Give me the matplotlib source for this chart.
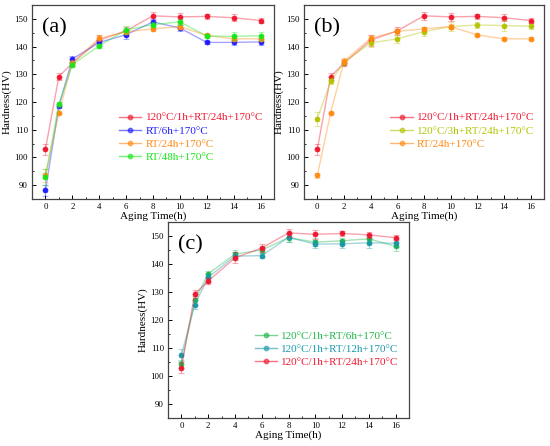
import matplotlib
matplotlib.use("Agg")
import matplotlib.pyplot as plt
from matplotlib.ticker import MultipleLocator

plt.rcParams['font.family'] = ['Liberation Serif', 'DejaVu Serif']

time_h = [0, 1, 2, 4, 6, 8, 10, 12, 14, 16]

# panel (a)
a_labels = ['120°C/1h+RT/24h+170°C', 'RT/6h+170°C', 'RT/24h+170°C', 'RT/48h+170°C']
a_vals = [
    [103.0, 129.2, 134.0, 142.3, 145.7, 151.1, 150.7, 150.9, 150.4, 149.4],
    [88.2, 118.5, 135.5, 141.5, 144.3, 148.9, 146.7, 141.5, 141.5, 141.7],
    [93.5, 116.0, 134.2, 143.0, 145.3, 146.4, 147.2, 144.0, 142.8, 142.8],
    [93.0, 119.3, 133.5, 140.3, 146.0, 147.9, 148.9, 143.8, 143.7, 143.9],
]
a_errs = [
    [2.0, 1.3, 1.0, 2.0, 1.5, 1.5, 1.5, 0.8, 1.2, 1.0],
    [2.0, 0.8, 1.0, 1.0, 1.5, 1.0, 1.0, 0.5, 0.8, 1.2],
    [2.5, 0.5, 1.0, 1.0, 0.8, 0.8, 0.8, 0.5, 0.8, 0.8],
    [2.8, 0.8, 1.0, 0.8, 1.5, 1.0, 1.0, 0.8, 1.5, 1.5],
]
a_colors = ['#f01830', '#1f1fff', '#ff8a14', '#19e619']

# panel (b)
b_labels = ['120°C/1h+RT/24h+170°C', '120°C/3h+RT/24h+170°C', 'RT/24h+170°C']
b_vals = [
    [103.0, 129.2, 134.0, 142.3, 145.7, 151.1, 150.7, 150.9, 150.4, 149.4],
    [114.0, 127.5, 134.3, 141.3, 142.8, 145.4, 147.2, 147.8, 147.6, 147.3],
    [93.5, 116.0, 134.7, 143.0, 145.5, 146.4, 147.2, 144.2, 142.8, 142.8],
]
b_errs = [
    [2.0, 1.3, 1.0, 2.0, 1.5, 1.5, 1.5, 0.8, 1.2, 1.0],
    [2.5, 1.0, 1.0, 1.5, 1.5, 1.5, 1.5, 1.0, 2.0, 1.0],
    [1.0, 0.5, 1.0, 1.0, 1.0, 0.8, 0.8, 0.5, 0.5, 0.5],
]
b_colors = ['#f01830', '#b4c400', '#ff8a14']

# panel (c)
c_labels = ['120°C/1h+RT/6h+170°C', '120°C/1h+RT/12h+170°C', '120°C/1h+RT/24h+170°C']
c_vals = [
    [104.2, 127.0, 136.5, 143.5, 145.0, 149.4, 147.8, 148.3, 149.0, 146.3],
    [107.5, 125.5, 135.2, 142.8, 143.0, 149.5, 147.1, 147.2, 147.6, 147.4],
    [103.0, 129.3, 133.9, 142.2, 145.7, 151.1, 150.6, 150.9, 150.4, 149.4],
]
c_errs = [
    [1.5, 1.5, 1.0, 1.5, 1.0, 1.5, 1.5, 1.0, 1.5, 1.5],
    [2.0, 1.5, 1.5, 1.5, 1.0, 1.5, 1.5, 1.5, 2.0, 1.5],
    [2.0, 1.3, 1.0, 2.0, 1.5, 1.5, 1.5, 0.8, 1.2, 1.0],
]
c_colors = ['#22b84a', '#1a98a8', '#f01830']

W, H = 550, 446
fig = plt.figure(figsize=(W / 100, H / 100), dpi=100)


def make_axes(l, r, t, b):
    return fig.add_axes([l / W, 1 - b / H, (r - l) / W, (b - t) / H])


def draw_panel(ax, vals, errs, colors, labels, tag, leg_xy):
    handles = []
    for v, e, c, lab in zip(vals, errs, colors, labels):
        ax.errorbar(time_h, v, yerr=e, fmt='none', ecolor=c, alpha=0.35,
                    elinewidth=0.8, capsize=2, capthick=0.8)
        ax.plot(time_h, v, '-', color=c, alpha=0.4, lw=1.0)
        ax.plot(time_h, v, 'o', color=c, ms=3.6, mec=c, mew=0.5)
        h, = ax.plot([], [], '-o', color=c, ms=3.2, lw=1.0, alpha=0.6)
        handles.append(h)
    ax.set_xlim(-1, 17)
    ax.set_ylim(85, 155)
    ax.xaxis.set_major_locator(MultipleLocator(2))
    ax.xaxis.set_minor_locator(MultipleLocator(1))
    ax.yaxis.set_major_locator(MultipleLocator(10))
    ax.yaxis.set_minor_locator(MultipleLocator(5))
    ax.set_yticks([90, 100, 110, 120, 130, 140, 150])
    ax.tick_params(which='both', direction='in', labelsize=6.3, pad=3)
    ax.tick_params(which='major', length=3, width=0.7)
    ax.tick_params(which='minor', length=1.6, width=0.6)
    for s in ax.spines.values():
        s.set_linewidth(0.9)
        s.set_color('#444444')
    ax.set_xlabel('Aging Time(h)', fontsize=8, labelpad=0)
    ax.set_ylabel('Hardness(HV)', fontsize=8, labelpad=2)
    ax.text(0.04, 0.93, tag, transform=ax.transAxes, fontsize=16, va='top')
    leg = ax.legend(handles, labels, loc='upper left', bbox_to_anchor=leg_xy,
                    frameon=False, fontsize=8, handlelength=2.0,
                    handletextpad=0.4, labelspacing=0.3, borderpad=0,
                    borderaxespad=0)
    for txt, c in zip(leg.get_texts(), colors):
        txt.set_color(c)


ax_a = make_axes(32, 274, 5, 199)
draw_panel(ax_a, a_vals, a_errs, a_colors, a_labels, '(a)', (0.36, 0.445))

ax_b = make_axes(304, 544, 5, 199)
draw_panel(ax_b, b_vals, b_errs, b_colors, b_labels, '(b)', (0.36, 0.445))

ax_c = make_axes(168, 409, 222, 418)
draw_panel(ax_c, c_vals, c_errs, c_colors, c_labels, '(c)', (0.36, 0.445))

fig.savefig('out.png', dpi=100)
